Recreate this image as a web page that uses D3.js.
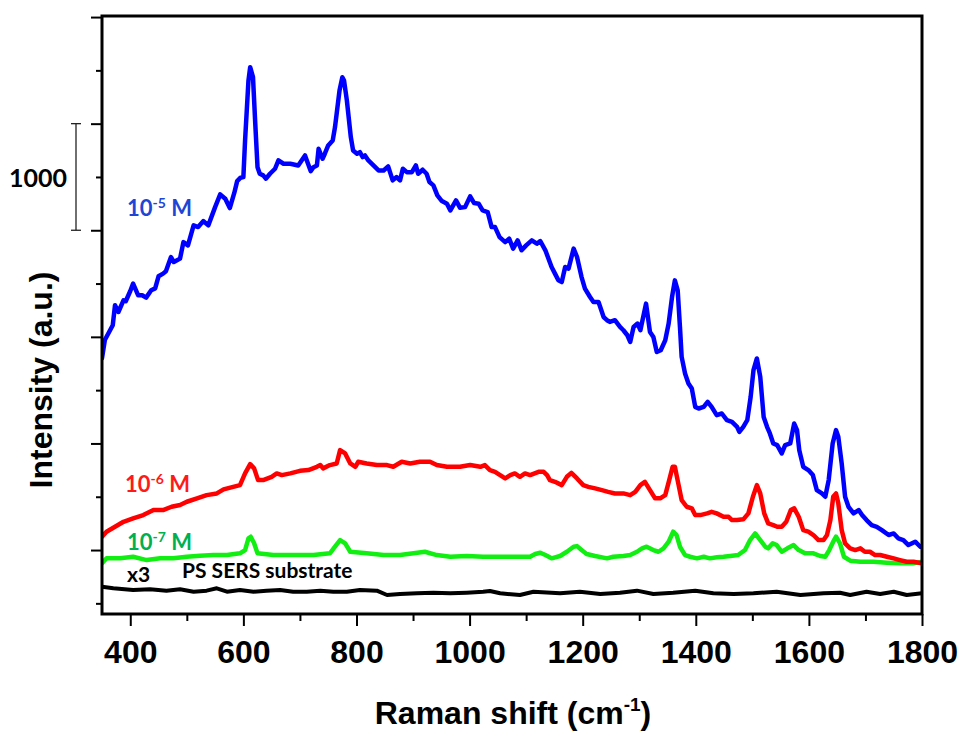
<!DOCTYPE html>
<html>
<head>
<meta charset="utf-8">
<script src="https://cdn.jsdelivr.net/npm/d3@7/dist/d3.min.js"></script>
<style>
  html, body { margin: 0; padding: 0; background: #fff; }
  svg { display: block; }
</style>
</head>
<body>
<svg id="chart" width="964" height="732"></svg>
<script>
// ---- Data (Raman shift in cm^-1, intensity in a.u., offsets as plotted) ----
const xTicksMajor = [400, 600, 800, 1000, 1200, 1400, 1600, 1800];
const xTicksMinor = [500, 700, 900, 1100, 1300, 1500, 1700];
const yTicksMajor = [0, 1000, 2000, 3000, 4000, 5000];
const yTicksMinor = [-500, 500, 1500, 2500, 3500, 4500];
const scaleBar = [3000, 4000];   // 1000 a.u. scale bar
const scaleBarLabel = "1000";

const seriesLabels = [
  { text: "10", sup: "-5", tail: " M", color: "#1f45d6" },
  { text: "10", sup: "-6", tail: " M", color: "#ff1a1a" },
  { text: "10", sup: "-7", tail: " M", color: "#00b050" }
];

const blue_1e5 = [
  [350,1800],[355,1970],[369,2109],[373,2296],[379,2233],[388,2343],[392,2334],[400,2430],
  [405,2499],[414,2390],[421,2390],[428,2368],[437,2437],[444,2455],[450,2568],[458,2593],
  [463,2615],[472,2749],[477,2702],[488,2734],[494,2889],[502,2858],[512,3046],[520,3030],
  [529,3086],[538,3046],[550,3217],[559,3336],[568,3296],[576,3208],[584,3352],[589,3461],
  [595,3493],[600,3499],[603,3843],[609,4405],[612,4530],[617,4436],[621,4002],[625,3592],
  [629,3530],[635,3515],[640,3484],[647,3530],[656,3577],[662,3655],[671,3624],[683,3624],
  [697,3608],[709,3702],[719,3555],[724,3592],[730,3608],[733,3765],[740,3671],[744,3718],
  [750,3796],[758,3843],[762,3967],[770,4311],[775,4436],[778,4405],[783,4217],[790,3873],
  [794,3749],[801,3718],[806,3733],[811,3686],[815,3702],[821,3655],[830,3608],[839,3561],
  [848,3561],[856,3599],[864,3468],[871,3499],[877,3468],[882,3577],[889,3545],[898,3545],
  [905,3608],[909,3530],[917,3568],[924,3530],[929,3452],[936,3421],[943,3327],[951,3274],
  [960,3249],[966,3186],[976,3280],[983,3212],[992,3217],[1001,3318],[1008,3255],[1016,3249],
  [1023,3186],[1032,3171],[1039,3030],[1045,3030],[1053,2936],[1063,2889],[1070,2921],[1077,2828],
  [1085,2905],[1092,2812],[1100,2858],[1110,2905],[1119,2874],[1125,2899],[1134,2812],[1145,2655],
  [1151,2593],[1157,2530],[1163,2514],[1169,2655],[1175,2640],[1184,2828],[1190,2749],[1198,2561],
  [1204,2453],[1213,2374],[1219,2327],[1228,2327],[1237,2186],[1243,2156],[1248,2140],[1257,2156],
  [1266,2093],[1272,2062],[1279,2015],[1284,1952],[1290,2093],[1297,2125],[1302,2062],[1312,2312],
  [1319,2046],[1325,1999],[1331,1858],[1338,1874],[1346,1968],[1352,2125],[1358,2374],[1363,2530],
  [1368,2437],[1372,2093],[1375,1812],[1381,1656],[1387,1562],[1393,1515],[1399,1343],[1405,1328],
  [1414,1343],[1421,1390],[1428,1343],[1437,1265],[1446,1281],[1455,1218],[1464,1202],[1473,1156],
  [1477,1109],[1484,1156],[1491,1218],[1497,1437],[1502,1687],[1508,1797],[1514,1624],[1520,1249],
  [1526,1156],[1531,1094],[1537,1000],[1544,984],[1552,906],[1558,984],[1567,1000],[1574,1187],
  [1579,1125],[1583,937],[1590,781],[1599,750],[1607,703],[1614,562],[1623,531],[1629,500],
  [1635,656],[1642,1000],[1648,1125],[1652,1062],[1658,812],[1664,500],[1670,406],[1679,344],
  [1688,375],[1694,328],[1702,281],[1711,234],[1720,218],[1729,187],[1741,141],[1750,156],
  [1758,110],[1767,94],[1776,47],[1788,78],[1797,31],[1800,28]
];

const red_1e6 = [
  [350,125],[358,172],[373,218],[388,265],[405,297],[423,328],[441,375],[458,375],
  [473,406],[488,422],[500,453],[518,485],[535,515],[553,531],[565,569],[582,593],
  [594,609],[603,719],[612,806],[619,766],[626,656],[635,656],[650,687],[659,719],
  [668,703],[683,719],[700,743],[715,750],[730,781],[736,797],[741,766],[753,797],
  [765,812],[771,937],[780,906],[789,812],[798,781],[803,828],[818,812],[836,797],
  [854,797],[865,781],[880,828],[895,812],[912,828],[930,828],[942,797],[960,781],
  [983,781],[1001,797],[1019,781],[1027,797],[1036,750],[1045,734],[1054,703],[1063,672],
  [1072,703],[1080,719],[1089,687],[1098,719],[1107,703],[1122,734],[1131,734],[1137,703],
  [1142,656],[1151,640],[1163,609],[1172,687],[1180,724],[1190,672],[1201,609],[1210,593],
  [1222,578],[1234,562],[1245,546],[1257,531],[1272,531],[1284,515],[1293,546],[1302,609],
  [1310,640],[1319,562],[1328,485],[1337,485],[1346,515],[1353,656],[1359,781],[1363,781],
  [1369,625],[1375,469],[1384,406],[1393,391],[1399,328],[1408,328],[1420,344],[1428,359],
  [1437,344],[1449,312],[1458,312],[1464,281],[1473,281],[1484,288],[1493,344],[1501,500],
  [1508,609],[1514,531],[1521,344],[1528,250],[1537,234],[1544,218],[1552,218],[1560,265],
  [1568,375],[1574,391],[1582,312],[1590,187],[1599,172],[1608,141],[1617,94],[1626,94],
  [1632,141],[1638,281],[1643,500],[1648,531],[1652,438],[1658,187],[1664,63],[1673,16],
  [1682,0],[1691,16],[1699,-16],[1708,-16],[1717,-47],[1726,-47],[1738,-63],[1750,-78],
  [1761,-94],[1773,-110],[1785,-110],[1800,-125]
];

const green_1e7 = [
  [350,-125],[358,-78],[382,-78],[405,-63],[429,-94],[453,-78],[476,-78],[500,-63],
  [523,-53],[547,-47],[571,-47],[594,-31],[603,0],[609,110],[613,125],[619,63],
  [625,-31],[653,-47],[688,-47],[724,-47],[753,-31],[762,31],[771,94],[780,63],
  [789,-16],[818,-31],[848,-47],[877,-47],[901,-31],[921,-16],[942,-47],[966,-63],
  [995,-56],[1024,-63],[1042,-63],[1066,-63],[1089,-63],[1107,-63],[1116,-37],[1125,-25],
  [1134,-47],[1145,-78],[1160,-56],[1172,-16],[1184,31],[1190,37],[1198,0],[1207,-37],
  [1222,-56],[1243,-78],[1254,-63],[1272,-56],[1284,-47],[1296,-16],[1305,16],[1313,31],
  [1325,0],[1334,-16],[1343,16],[1352,78],[1360,172],[1366,141],[1372,31],[1381,-47],
  [1390,-63],[1402,-78],[1414,-63],[1425,-78],[1437,-68],[1449,-63],[1461,-56],[1475,-47],
  [1487,0],[1496,94],[1505,156],[1514,94],[1523,31],[1528,16],[1536,63],[1543,47],
  [1552,-16],[1562,16],[1573,47],[1582,0],[1593,-31],[1608,-31],[1620,-56],[1629,-63],
  [1636,0],[1643,78],[1648,125],[1655,63],[1662,-63],[1673,-100],[1691,-110],[1714,-110],
  [1738,-119],[1761,-125],[1785,-125],[1800,-110]
];

const black_substrate = [
  [350,-344],[370,-359],[405,-375],[435,-368],[464,-381],[488,-368],[512,-391],[535,-381],
  [553,-359],[571,-391],[594,-375],[618,-391],[641,-381],[665,-375],[688,-391],[712,-391],
  [736,-381],[759,-391],[783,-391],[806,-375],[836,-381],[854,-422],[877,-412],[907,-406],
  [936,-400],[966,-406],[995,-400],[1024,-391],[1036,-384],[1054,-406],[1089,-422],[1113,-391],
  [1160,-406],[1195,-391],[1231,-412],[1266,-400],[1296,-381],[1325,-412],[1360,-400],[1399,-381],
  [1431,-406],[1467,-412],[1502,-406],[1543,-391],[1585,-422],[1626,-406],[1655,-400],[1673,-422],
  [1702,-391],[1726,-412],[1750,-391],[1773,-422],[1800,-406]
];

const seriesList = [
  { data: blue_1e5, color: "#0000ff", width: 4.5 },
  { data: red_1e6, color: "#ff0000", width: 4.5 },
  { data: green_1e7, color: "#11ee11", width: 4.5 },
  { data: black_substrate, color: "#000000", width: 4 }
];

// ---- Layout ----
const svg = d3.select("#chart");
const margin = { left: 102, right: 42, top: 16, bottom: 118 };
const W = 964, H = 732;
const x = d3.scaleLinear().domain([350, 1800]).range([margin.left, W - margin.right]);
const y = d3.scaleLinear().domain([-600, 5010]).range([H - margin.bottom, margin.top]);

const x0 = x.range()[0], x1 = x.range()[1];
const y0 = y.range()[0], y1 = y.range()[1];

// ---- Curves ----
const line = d3.line().x(d => x(d[0])).y(d => y(d[1])).curve(d3.curveLinear);
svg.append("clipPath").attr("id", "clip")
  .append("rect").attr("x", x0).attr("y", y1).attr("width", x1 - x0).attr("height", y0 - y1);

const plot = svg.append("g").attr("clip-path", "url(#clip)");
seriesList.slice().reverse().forEach(s => {
  plot.append("path")
    .datum(s.data)
    .attr("fill", "none")
    .attr("stroke", s.color)
    .attr("stroke-width", s.width)
    .attr("stroke-linejoin", "round")
    .attr("stroke-linecap", "round")
    .attr("d", line);
});

// ---- Axes ----
const axisFont = "'Liberation Sans', Arial, sans-serif";

const gx = svg.append("g").attr("transform", `translate(0,${y0})`);
gx.call(d3.axisBottom(x).tickValues(xTicksMinor).tickSize(7).tickFormat(""))
  .call(g => g.select(".domain").remove());
gx.append("g").call(d3.axisBottom(x).tickValues(xTicksMajor).tickSize(12).tickFormat(d3.format("d")))
  .call(g => g.select(".domain").remove());
gx.selectAll("line").attr("stroke", "#000").attr("stroke-width", 2);
gx.selectAll("text")
  .attr("y", 49).attr("dy", null)
  .attr("fill", "#000")
  .style("font-family", axisFont)
  .style("font-size", "32px")
  .style("font-weight", "bold");

const gy = svg.append("g").attr("transform", `translate(${x0},0)`);
gy.call(d3.axisLeft(y).tickValues(yTicksMinor).tickSize(6).tickFormat(""))
  .call(g => g.select(".domain").remove());
gy.append("g").call(d3.axisLeft(y).tickValues(yTicksMajor).tickSize(11).tickFormat(""))
  .call(g => g.select(".domain").remove());
gy.selectAll("line").attr("stroke", "#000").attr("stroke-width", 2);

// frame
svg.append("rect")
  .attr("x", x0).attr("y", y1)
  .attr("width", x1 - x0).attr("height", y0 - y1)
  .attr("fill", "none").attr("stroke", "#000").attr("stroke-width", 3);

// ---- Axis titles ----
const xt = svg.append("text")
  .attr("x", (x0 + x1) / 2 + 1).attr("y", 724)
  .attr("text-anchor", "middle")
  .style("font-family", axisFont).style("font-size", "32px").style("font-weight", "bold")
  .attr("fill", "#000");
xt.append("tspan").text("Raman shift (cm");
xt.append("tspan").text("-1").attr("dy", -13).style("font-size", "19px");
xt.append("tspan").text(")").attr("dy", 13);

svg.append("text")
  .attr("transform", "translate(52,380) rotate(-90)")
  .attr("text-anchor", "middle")
  .style("font-family", axisFont).style("font-size", "32px").style("font-weight", "bold")
  .attr("fill", "#000")
  .text("Intensity (a.u.)");

// ---- Scale bar ----
const sbX = 76;
const sb = svg.append("g").attr("stroke", "#222").attr("stroke-width", 1.3);
sb.append("line").attr("x1", sbX).attr("x2", sbX).attr("y1", y(scaleBar[1])).attr("y2", y(scaleBar[0]));
sb.append("line").attr("x1", sbX - 5).attr("x2", sbX + 5).attr("y1", y(scaleBar[1])).attr("y2", y(scaleBar[1]));
sb.append("line").attr("x1", sbX - 5).attr("x2", sbX + 5).attr("y1", y(scaleBar[0])).attr("y2", y(scaleBar[0]));
const labelFont = "Lato, 'Open Sans', sans-serif";
svg.append("text")
  .attr("x", 38).attr("y", 187)
  .attr("text-anchor", "middle")
  .style("font-family", labelFont).style("font-size", "25px").style("font-weight", "bold")
  .attr("fill", "#000")
  .text(scaleBarLabel);

// ---- Series labels ----
const labelPos = [[127, 216], [125, 492], [127, 550]];
seriesLabels.forEach((l, i) => {
  const t = svg.append("text")
    .attr("x", labelPos[i][0]).attr("y", labelPos[i][1])
    .style("font-family", labelFont).style("font-size", "22px").style("font-weight", "bold")
    .attr("fill", l.color);
  t.append("tspan").text(l.text);
  t.append("tspan").text(l.sup).attr("dy", -8).style("font-size", "14px");
  t.append("tspan").text(l.tail).attr("dy", 8);
});

svg.append("text")
  .attr("x", 127).attr("y", 582)
  .style("font-family", labelFont).style("font-size", "21px").style("font-weight", "bold")
  .attr("fill", "#000").text("x3");
svg.append("text")
  .attr("x", 182).attr("y", 578)
  .style("font-family", labelFont).style("font-size", "21px").style("font-weight", "bold")
  .attr("fill", "#000").text("PS SERS substrate");
</script>
</body>
</html>
